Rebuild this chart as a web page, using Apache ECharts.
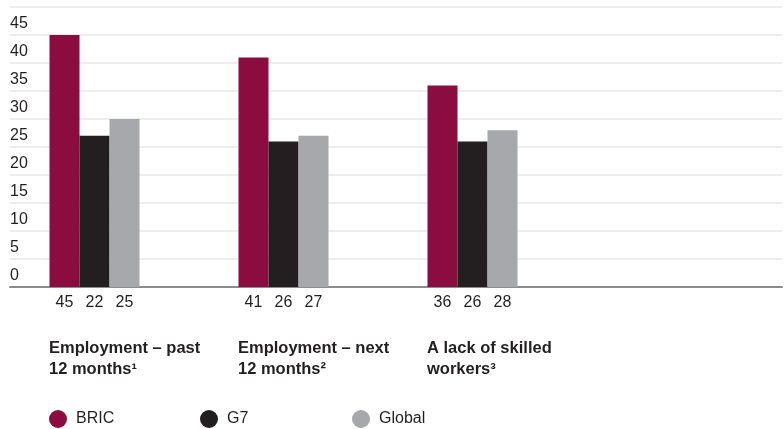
<!DOCTYPE html>
<html><head><meta charset="utf-8">
<script src="https://cdn.jsdelivr.net/npm/echarts@6/dist/echarts.min.js"></script>
<style>html,body{margin:0;padding:0;background:#fff}#c{width:784px;height:429px}</style>
</head><body><div id="c"></div>
<script>
const categories = ['Employment – past\n12 months¹', 'Employment – next\n12 months²', 'A lack of skilled\nworkers³', ''];
const seriesNames = ['BRIC', 'G7', 'Global'];
// bar heights as drawn in the picture
const bric = [45, 41, 36];
const g7 = [27, 26, 26];
const globalVals = [30, 27, 28];
// value labels printed under the bars
const bricLabels = [45, 41, 36];
const g7Labels = [22, 26, 26];
const globalLabels = [25, 27, 28];
const yTickLabels = [0, 5, 10, 15, 20, 25, 30, 35, 40, 45];

const colors = ['#8b0d3f', '#231f20', '#a7a8ac'];
const FONT = 'Liberation Sans, Arial, sans-serif';
const chart = echarts.init(document.getElementById('c'), null, {renderer: 'canvas'});
const G = {top: 7, height: 280};
function mkSeries(name, data, labels, color) {
  return {
    name: name, type: 'bar', xAxisIndex: 1, yAxisIndex: 1, data: data,
    barWidth: 30, barGap: '0%',
    itemStyle: {color: color},
    label: {show: true, position: 'bottom', distance: 8, fontFamily: FONT, fontSize: 16, color: '#231f20',
      formatter: p => String(labels[p.dataIndex])}
  };
}
function mkLegend(i, left) {
  return {
    data: [seriesNames[i]], left: left, top: 410, padding: 0, icon: 'circle', itemWidth: 18, itemHeight: 18,
    textStyle: {fontFamily: FONT, fontSize: 16, color: '#231f20', padding: [2, 0, 0, 4]}
  };
}
chart.setOption({
  animation: false,
  color: colors,
  grid: [
    {left: 10, right: 2, top: G.top, height: G.height},
    {left: 0, width: 756, top: G.top, height: G.height},
    {left: 49, width: 567, top: G.top, height: G.height}
  ],
  xAxis: [
    {gridIndex: 0, type: 'category', data: categories, axisLine: {show: true, lineStyle: {color: '#8c8c8c', width: 2}}, axisTick: {show: false}, axisLabel: {show: false}},
    {gridIndex: 1, type: 'category', data: categories, axisLine: {show: false}, axisTick: {show: false}, axisLabel: {show: false}},
    {gridIndex: 2, type: 'category', data: categories, boundaryGap: false, axisLine: {show: false}, axisTick: {show: false},
      axisLabel: {show: true, interval: 0, align: 'left', margin: 51, fontFamily: FONT, fontWeight: 'bold', fontSize: 16.5, lineHeight: 21, color: '#231f20'}}
  ],
  yAxis: [
    {gridIndex: 0, type: 'value', min: 0, max: 50, interval: 5, axisLine: {show: false}, axisTick: {show: false},
      splitLine: {show: true, lineStyle: {color: '#e8e8e8', width: 1.5}},
      axisLabel: {inside: true, margin: 0, verticalAlign: 'bottom', lineHeight: 23, fontFamily: FONT, fontSize: 16, color: '#231f20',
        formatter: v => (yTickLabels.indexOf(v) >= 0 ? String(v) : '')}},
    {gridIndex: 1, type: 'value', min: 0, max: 50, interval: 5, show: false, splitLine: {show: false}},
    {gridIndex: 2, type: 'value', min: 0, max: 50, interval: 5, show: false, splitLine: {show: false}}
  ],
  legend: [mkLegend(0, 49), mkLegend(1, 200), mkLegend(2, 352)],
  series: [
    mkSeries(seriesNames[0], bric, bricLabels, colors[0]),
    mkSeries(seriesNames[1], g7, g7Labels, colors[1]),
    mkSeries(seriesNames[2], globalVals, globalLabels, colors[2])
  ]
});
</script></body></html>
